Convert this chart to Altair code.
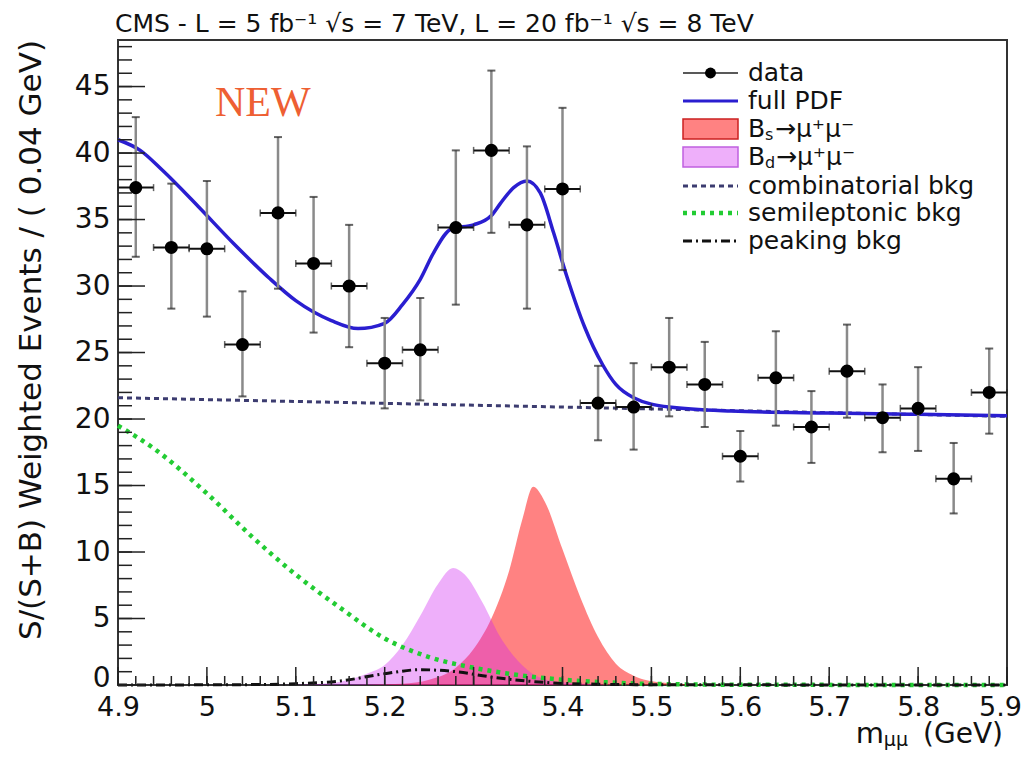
import altair as alt
import pandas as pd

# ---------------- data ----------------
bin_centers = [4.92, 4.96, 5.00, 5.04, 5.08, 5.12, 5.16, 5.20, 5.24, 5.28, 5.32, 5.36, 5.40,
               5.44, 5.48, 5.52, 5.56, 5.60, 5.64, 5.68, 5.72, 5.76, 5.80, 5.84, 5.88]
data_y = [37.4, 32.9, 32.8, 25.6, 35.5, 31.7, 30.0, 24.2, 25.2, 34.4, 40.2, 34.6, 37.3,
          21.2, 20.9, 23.9, 22.6, 17.2, 23.1, 19.4, 23.6, 20.1, 20.8, 15.5, 22.0]
err_lo = [32.2, 28.3, 27.7, 21.7, 29.8, 26.5, 25.4, 20.8, 21.4, 28.6, 34.0, 28.3, 31.2,
          18.4, 17.7, 20.2, 19.4, 15.3, 19.5, 16.7, 20.1, 17.5, 17.6, 12.9, 18.9]
err_hi = [42.7, 37.7, 37.9, 29.6, 41.2, 36.7, 34.6, 27.6, 29.1, 40.2, 46.2, 40.5, 43.4,
          24.0, 24.2, 27.6, 25.8, 19.1, 26.6, 22.1, 27.1, 22.6, 23.9, 18.2, 25.3]
bin_half_width = 0.02

pdf_x = [4.90, 4.925, 4.95, 4.99, 5.03, 5.07, 5.10, 5.14, 5.17, 5.20, 5.22, 5.24, 5.255,
         5.275, 5.30, 5.32, 5.33, 5.345, 5.36, 5.375, 5.39, 5.405, 5.425, 5.445, 5.46,
         5.48, 5.52, 5.59, 5.70, 5.80, 5.90]
pdf_y = [41.0, 40.2, 38.7, 36.0, 33.2, 30.6, 28.9, 27.4, 26.8, 27.2, 28.6, 30.5, 32.5,
         34.3, 34.6, 35.3, 36.2, 37.4, 37.9, 37.0, 34.0, 30.7, 26.9, 24.1, 22.6,
         21.6, 20.9, 20.6, 20.45, 20.35, 20.25]

comb_x = [4.90, 5.90]
comb_y = [21.6, 20.2]

semi_x = [4.90, 4.94, 5.00, 5.05, 5.10, 5.15, 5.20, 5.25, 5.30, 5.35, 5.40, 5.45, 5.50, 5.60, 5.90]
semi_y = [19.5, 17.8, 14.4, 11.2, 8.3, 5.8, 3.5, 2.1, 1.3, 0.75, 0.4, 0.2, 0.08, 0.02, 0.0]

peak_x = [4.90, 5.05, 5.10, 5.15, 5.20, 5.24, 5.28, 5.32, 5.36, 5.40, 5.45, 5.50, 5.90]
peak_y = [0.0, 0.03, 0.1, 0.3, 0.85, 1.15, 1.0, 0.6, 0.3, 0.12, 0.05, 0.02, 0.0]

bs_x = [5.15, 5.22, 5.25, 5.28, 5.30, 5.32, 5.34, 5.355, 5.367, 5.38, 5.40, 5.42, 5.44,
        5.46, 5.48, 5.51, 5.55, 5.60]
bs_y = [0.0, 0.1, 0.4, 1.3, 2.7, 5.0, 8.6, 12.5, 14.9, 13.8, 10.2, 6.6, 3.6,
        1.6, 0.7, 0.2, 0.03, 0.0]

bd_x = [5.05, 5.10, 5.14, 5.16, 5.18, 5.20, 5.22, 5.24, 5.26, 5.277, 5.29, 5.31, 5.33,
        5.35, 5.37, 5.40, 5.45, 5.50]
bd_y = [0.0, 0.02, 0.15, 0.4, 0.85, 1.5, 3.0, 5.2, 7.6, 8.8, 8.3, 6.2, 3.6,
        1.8, 0.7, 0.2, 0.03, 0.0]

x_tick_labels = [4.9, 5.0, 5.1, 5.2, 5.3, 5.4, 5.5, 5.6, 5.7, 5.8, 5.9]
x_minor_ticks = [round(4.9 + 0.02 * i, 2) for i in range(51)]
y_tick_labels = [0, 5, 10, 15, 20, 25, 30, 35, 40, 45]
y_minor_ticks = list(range(0, 49))

# ---------------- layout / style ----------------
W, H = 889, 645
FONT = "DejaVu Sans"
xs = alt.Scale(domain=[4.9, 5.9], nice=False, zero=False)
ys = alt.Scale(domain=[0, 48.5], nice=False, zero=False)
x_axis = alt.Axis(values=x_tick_labels, format="~g", tickSize=0, domain=False, grid=False,
                  labelFontSize=27, labelFont=FONT, labelColor="#111", labelPadding=9,
                  labelFlush=False, title=None,
                  labelOffset={"condition": {"test": "datum.value >= 5.89", "value": -7}, "value": 0})
y_axis = alt.Axis(values=y_tick_labels, tickSize=0, domain=False, grid=False,
                  labelFontSize=28, labelFont=FONT, labelColor="#111", labelPadding=8,
                  labelOffset={"condition": {"test": "datum.value == 0", "value": -7}, "value": 0},
                  title=None)


def X(f):
    return alt.X(f, type="quantitative", scale=xs, axis=x_axis)


def Y(f):
    return alt.Y(f, type="quantitative", scale=ys, axis=y_axis)


pts = pd.DataFrame({"x": bin_centers, "y": data_y, "lo": err_lo, "hi": err_hi})
pts["xlo"] = pts["x"] - bin_half_width
pts["xhi"] = pts["x"] + bin_half_width

pdf_df = pd.DataFrame({"x": pdf_x, "y": pdf_y})
comb_df = pd.DataFrame({"x": comb_x, "y": comb_y})
semi_df = pd.DataFrame({"x": semi_x, "y": semi_y})
peak_df = pd.DataFrame({"x": peak_x, "y": peak_y})
bs_df = pd.DataFrame({"x": bs_x, "y": bs_y})
bd_df = pd.DataFrame({"x": bd_x, "y": bd_y})

one = pd.DataFrame({"k": [0]})

layers = []

# signal areas
layers.append(alt.Chart(bs_df).mark_area(color="#ff1010", opacity=0.52, interpolate="monotone")
              .encode(x=X("x"), y=Y("y")))
layers.append(alt.Chart(bd_df).mark_area(color="#d020f0", opacity=0.36, interpolate="monotone")
              .encode(x=X("x"), y=Y("y")))

# background curves
layers.append(alt.Chart(semi_df).mark_line(color="#22cc33", strokeWidth=4.5, strokeDash=[4, 5],
                                           interpolate="monotone")
              .encode(x=X("x"), y=Y("y")))
layers.append(alt.Chart(peak_df).mark_line(color="#111111", strokeWidth=3, strokeDash=[9, 4, 2, 4],
                                           interpolate="monotone")
              .encode(x=X("x"), y=Y("y")))
layers.append(alt.Chart(comb_df).mark_line(color="#3c3c70", strokeWidth=3, strokeDash=[5, 4])
              .encode(x=X("x"), y=Y("y")))
layers.append(alt.Chart(pdf_df).mark_line(color="#2a1ed0", strokeWidth=3.5, interpolate="monotone")
              .encode(x=X("x"), y=Y("y")))

# data points with error bars
layers.append(alt.Chart(pts).mark_rule(color="#8a8a8a", strokeWidth=2.5)
              .encode(x=X("x"), y=Y("lo"), y2="hi"))
layers.append(alt.Chart(pts).mark_tick(color="#222", orient="horizontal", size=8, thickness=2)
              .encode(x=X("x"), y=Y("lo")))
layers.append(alt.Chart(pts).mark_tick(color="#222", orient="horizontal", size=8, thickness=2)
              .encode(x=X("x"), y=Y("hi")))
layers.append(alt.Chart(pts).mark_rule(color="#111", strokeWidth=2)
              .encode(x=X("xlo"), x2="xhi", y=Y("y")))
layers.append(alt.Chart(pts).mark_tick(color="#222", orient="vertical", size=7, thickness=1.5)
              .encode(x=X("xlo"), y=Y("y")))
layers.append(alt.Chart(pts).mark_tick(color="#222", orient="vertical", size=7, thickness=1.5)
              .encode(x=X("xhi"), y=Y("y")))
layers.append(alt.Chart(pts).mark_point(filled=True, color="#000", size=170, opacity=1)
              .encode(x=X("x"), y=Y("y")))

# inward ROOT-style ticks
xmaj = pd.DataFrame({"x": x_tick_labels})
xmin = pd.DataFrame({"x": x_minor_ticks})
ymaj = pd.DataFrame({"y": y_tick_labels})
ymin = pd.DataFrame({"y": y_minor_ticks})
layers.append(alt.Chart(xmaj).mark_rule(color="#222", strokeWidth=1.5)
              .encode(x=X("x"), y=alt.value(H), y2=alt.value(H - 18)))
layers.append(alt.Chart(xmin).mark_rule(color="#222", strokeWidth=1.5)
              .encode(x=X("x"), y=alt.value(H), y2=alt.value(H - 9)))
layers.append(alt.Chart(ymaj).mark_rule(color="#222", strokeWidth=1.5)
              .encode(y=Y("y"), x=alt.value(0), x2=alt.value(27)))
layers.append(alt.Chart(ymin).mark_rule(color="#222", strokeWidth=1.5)
              .encode(y=Y("y"), x=alt.value(0), x2=alt.value(14)))


def txt(s, x, y, size=25, color="#111", align="left", baseline="middle", font=FONT, angle=0):
    kw = dict(fontSize=size, color=color, align=align, baseline=baseline, font=font)
    if angle:
        kw["angle"] = angle
    return alt.Chart(one).mark_text(**kw).encode(x=alt.value(x), y=alt.value(y), text=alt.value(s))


def seg(x1, x2, y, color, width, dash=None):
    kw = dict(color=color, strokeWidth=width)
    if dash:
        kw["strokeDash"] = dash
    return alt.Chart(one).mark_rule(**kw).encode(x=alt.value(x1), x2=alt.value(x2), y=alt.value(y))


# titles
layers.append(txt("CMS - L = 5 fb\u207b\u00b9  \u221as = 7 TeV, L = 20 fb\u207b\u00b9  \u221as = 8 TeV",
                  -3, -8, size=25, baseline="alphabetic"))
layers.append(txt("S/(S+B) Weighted Events / ( 0.04 GeV)", -86, 0, size=31, align="right", angle=270))
layers.append(txt("(GeV)", 885, H + 58, size=28, align="right", baseline="alphabetic"))
layers.append(txt("\u03bc\u03bc", 790, H + 61, size=19, align="right", baseline="alphabetic"))
layers.append(txt("m", 766, H + 58, size=29, align="right", baseline="alphabetic"))
layers.append(txt("NEW", 97, 63, size=42, color="#ee5f33", font="Liberation Serif"))

# legend
LX1, LX2, LT = 565, 620, 630
ly = [33, 61, 89, 117, 146, 173, 201]
layers.append(seg(LX1, LX2, ly[0], "#222", 1.5))
layers.append(alt.Chart(one).mark_point(filled=True, color="#000", size=120, opacity=1)
              .encode(x=alt.value((LX1 + LX2) / 2), y=alt.value(ly[0])))
layers.append(txt("data", LT, ly[0]))
layers.append(seg(LX1, LX2, ly[1], "#2a1ed0", 3))
layers.append(txt("full PDF", LT, ly[1]))
layers.append(alt.Chart(one).mark_rect(fill="#ff1010", fillOpacity=0.52, stroke="#cc2020", strokeWidth=1.5)
              .encode(x=alt.value(LX1), x2=alt.value(LX2), y=alt.value(ly[2] - 10), y2=alt.value(ly[2] + 10)))
layers.append(txt("B", LT, ly[2]))
layers.append(txt("s", LT + 17, ly[2] + 6, size=16))
layers.append(txt("\u2192\u03bc\u207a\u03bc\u207b", LT + 27, ly[2]))
layers.append(alt.Chart(one).mark_rect(fill="#d020f0", fillOpacity=0.36, stroke="#c060e0", strokeWidth=1.5)
              .encode(x=alt.value(LX1), x2=alt.value(LX2), y=alt.value(ly[3] - 10), y2=alt.value(ly[3] + 10)))
layers.append(txt("B", LT, ly[3]))
layers.append(txt("d", LT + 17, ly[3] + 6, size=16))
layers.append(txt("\u2192\u03bc\u207a\u03bc\u207b", LT + 28, ly[3]))
layers.append(seg(LX1, LX2, ly[4], "#3c3c70", 3, [5, 4]))
layers.append(txt("combinatorial bkg", LT, ly[4]))
layers.append(seg(LX1, LX2, ly[5], "#22cc33", 4.5, [4, 5]))
layers.append(txt("semileptonic bkg", LT, ly[5]))
layers.append(seg(LX1, LX2, ly[6], "#111", 3, [9, 4, 2, 4]))
layers.append(txt("peaking bkg", LT, ly[6]))

chart = alt.layer(*layers).properties(
    width=W, height=H,
    padding={"left": 110, "top": 32, "right": 16, "bottom": 65},
    autosize=alt.AutoSizeParams(type="none"),
    background="white",
).configure_view(stroke="#333", strokeWidth=2)

chart.save("out.html", embed_options={"renderer": "svg", "actions": False})
